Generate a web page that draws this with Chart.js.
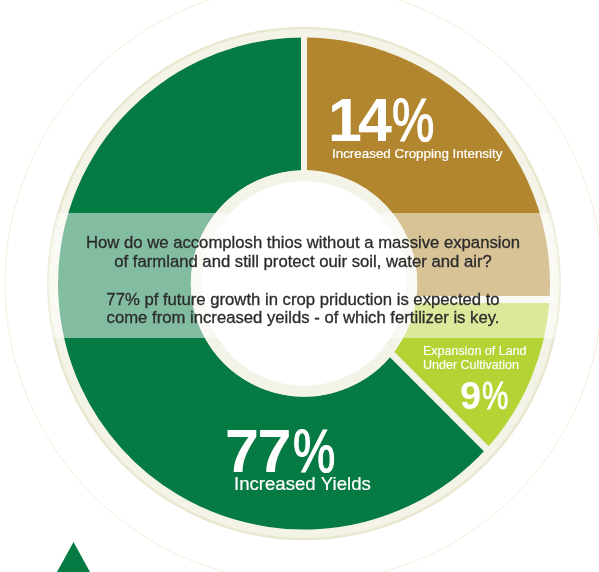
<!DOCTYPE html>
<html>
<head>
<meta charset="utf-8">
<style>
  html, body { margin: 0; padding: 0; background: #fff; }
  canvas { display: block; }
</style>
<script src="https://cdn.jsdelivr.net/npm/chart.js@4"></script>
</head>
<body>
<canvas id="ring" width="599" height="572"></canvas>
<script>
// what the picture prints
const categories = ['Increased Cropping Intensity', 'Expansion of Land Under Cultivation', 'Increased Yields'];
const percentValues = [14, 9, 77];
// how much of the ring each slice takes in the picture (not the same as the printed numbers)
const sliceShares = [26.4, 9.7, 63.9];
const sliceColors = ['#b1862e', '#b4d334', '#067a43'];
const centerLines = [
  'How do we accomplosh thios without a massive expansion',
  'of farmland and still protect ouir soil, water and air?',
  '77% pf future growth in crop priduction is expected to',
  'come from increased yeilds - of which fertilizer is key.'
];

const FONT = '"Liberation Sans", Arial, sans-serif';
const CREAM = '#f4f3e7';

// the gaps in the original are straight strips that do not run through the centre,
// so each slice is drawn a bit too wide and clipped to its own side of the gap
const sliceClips = [
  [[3, -300], [300, -300], [300, 12.5], [3, 12.5]],
  [[41.5, 19.5], [300, 19.5], [300, 278]],
  [[-3, -300], [-300, -300], [-300, 300], [312, 300], [-3, -15.2]]
];

function text(ctx, str, x, y, size, color, opts) {
  opts = opts || {};
  ctx.save();
  ctx.font = (opts.bold ? 'bold ' : '') + size + 'px ' + FONT;
  ctx.letterSpacing = (opts.spacing || 0) + 'px';
  ctx.fillStyle = color;
  ctx.textAlign = opts.align || 'left';
  ctx.textBaseline = 'alphabetic';
  ctx.translate(x, y);
  ctx.scale(opts.scaleX || 1, 1);
  ctx.fillText(str, 0, 0);
  if (opts.stroke) {
    ctx.strokeStyle = color;
    ctx.lineWidth = opts.stroke;
    ctx.strokeText(str, 0, 0);
  }
  ctx.restore();
}

// big number in bold with a narrower regular percent sign next to it
function bigPercent(ctx, value, x, pctX, y, size, spacing, pctStroke) {
  text(ctx, String(value), x, y, size, '#fff', { bold: true, spacing: spacing });
  text(ctx, '%', pctX, y, size, '#fff', { scaleX: 0.78, stroke: pctStroke });
}

const ringBackdrop = {
  id: 'ringBackdrop',
  beforeDatasetsDraw(chart) {
    const ctx = chart.ctx;
    const arc = chart.getDatasetMeta(0).data[0];
    const cx = arc.x, cy = arc.y, r = arc.outerRadius;

    ctx.save();
    ctx.beginPath();
    ctx.arc(cx, cy, r + 53, 0, Math.PI * 2);
    ctx.strokeStyle = '#eff0dc';
    ctx.lineWidth = 1;
    ctx.stroke();

    ctx.beginPath();
    ctx.arc(cx, cy, r + 9.5, 0, Math.PI * 2);
    ctx.fillStyle = CREAM;
    ctx.fill();
    ctx.strokeStyle = '#e9e7cf';
    ctx.lineWidth = 2.5;
    ctx.stroke();
    ctx.restore();
  },
  beforeDatasetDraw(chart) {
    const ctx = chart.ctx;
    chart.getDatasetMeta(0).data.forEach(function(arc, i) {
      const start = arc.startAngle, end = arc.endAngle;
      ctx.save();
      ctx.beginPath();
      sliceClips[i].forEach(function(p, n) {
        if (n === 0) ctx.moveTo(arc.x + p[0], arc.y + p[1]);
        else ctx.lineTo(arc.x + p[0], arc.y + p[1]);
      });
      ctx.closePath();
      ctx.clip();
      arc.startAngle = start - 0.16;
      arc.endAngle = end + 0.16;
      arc.draw(ctx);
      arc.startAngle = start;
      arc.endAngle = end;
      ctx.restore();
    });
    return false;
  },
  afterDatasetsDraw(chart) {
    const ctx = chart.ctx;
    const arc = chart.getDatasetMeta(0).data[0];
    const cx = arc.x, cy = arc.y, r = arc.outerRadius;

    // white hole inside the cream inner ring
    ctx.save();
    ctx.beginPath();
    ctx.arc(cx, cy, arc.innerRadius, 0, Math.PI * 2);
    ctx.fillStyle = CREAM;
    ctx.fill();
    ctx.beginPath();
    ctx.arc(cx, cy, arc.innerRadius - 11, 0, Math.PI * 2);
    ctx.fillStyle = '#fff';
    ctx.fill();

    // pale band behind the question text
    ctx.beginPath();
    ctx.arc(cx, cy, r + 10, 0, Math.PI * 2);
    ctx.clip();
    ctx.fillStyle = 'rgba(255,255,255,0.5)';
    ctx.fillRect(0, 213, 599, 125);
    ctx.restore();

    // small triangle cut off by the bottom edge
    ctx.beginPath();
    ctx.moveTo(73.5, 542);
    ctx.lineTo(90, 572);
    ctx.lineTo(57, 572);
    ctx.closePath();
    ctx.fillStyle = sliceColors[2];
    ctx.fill();

    // question text
    const dark = '#2b2b2b';
    const mid = { align: 'center', stroke: 0.3 };
    text(ctx, centerLines[0], 303, 248, 16.7, dark, mid);
    text(ctx, centerLines[1], 303, 267, 16.7, dark, mid);
    text(ctx, centerLines[2], 303, 305, 16.7, dark, mid);
    text(ctx, centerLines[3], 303, 323, 16.7, dark, mid);

    // slice labels
    bigPercent(ctx, percentValues[0], 328, 392, 141, 61, -4, 1.2);
    text(ctx, categories[0], 332, 158, 13.4, '#fff', { stroke: 0.2 });
    bigPercent(ctx, percentValues[2], 225, 293, 472, 61, -1.5, 1.2);
    text(ctx, categories[2], 234, 490, 18.6, '#fff', { stroke: 0.2 });
    text(ctx, 'Expansion of Land', 423, 355, 12.5, '#fff', { stroke: 0.15 });
    text(ctx, 'Under Cultivation', 423, 369, 12.5, '#fff', { stroke: 0.15 });
    bigPercent(ctx, percentValues[1], 460, 482, 409, 38, 0, 0.8);
  }
};

new Chart(document.getElementById('ring'), {
  type: 'doughnut',
  data: {
    labels: categories,
    datasets: [{ data: sliceShares, backgroundColor: sliceColors, borderWidth: 0 }]
  },
  options: {
    responsive: false,
    animation: false,
    cutout: '46%',
    layout: { padding: { left: 58, right: 49, top: 37, bottom: 42 } },
    plugins: { legend: { display: false }, tooltip: { enabled: false } }
  },
  plugins: [ringBackdrop]
});
</script>
</body>
</html>
